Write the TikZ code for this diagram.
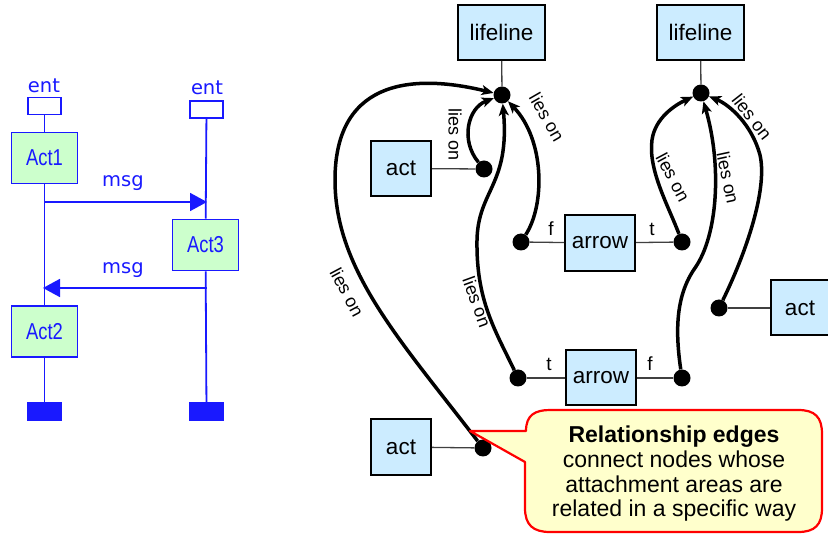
\documentclass[tikz,border=0pt]{standalone}
\usepackage{fontspec}
\usepackage{graphicx}
\setmainfont{Liberation Sans}
\newfontfamily\seqfont{DejaVu Sans}
\usetikzlibrary{arrows.meta}
\definecolor{seqblue}{RGB}{25,25,255}
\definecolor{actgreen}{RGB}{204,255,204}
\definecolor{nodeblue}{RGB}{204,236,255}
\definecolor{noteyellow}{RGB}{255,255,204}
\definecolor{notered}{RGB}{255,0,0}
\newcommand{\narrowtext}[1]{\scalebox{0.8}[1]{#1}}
\begin{document}
\begin{tikzpicture}[x=1pt,y=-1pt,
  seqbox/.style={draw=seqblue, fill=actgreen, line width=1.8pt, minimum width=66pt, minimum height=51pt, inner sep=0pt, font=\fontsize{23}{25}\selectfont, text=seqblue},
  entbox/.style={draw=seqblue, fill=white, line width=1.8pt, minimum width=33pt, minimum height=17pt, inner sep=0pt},
  endbox/.style={fill=seqblue, minimum width=35pt, minimum height=19pt, inner sep=0pt},
  life/.style={seqblue, line width=1.8pt},
  msgarrow/.style={life, -{Triangle[length=17pt,width=18pt]}},
  seqlabel/.style={text=seqblue, font=\seqfont\fontsize{19.5}{21}\selectfont, inner sep=0pt},
  gbox/.style={draw=black, fill=nodeblue, line width=2pt, inner sep=0pt, font=\fontsize{22.5}{24}\selectfont},
  attach/.style={circle, fill=black, minimum size=17pt, inner sep=0pt},
  link/.style={draw=black!75, line width=1.3pt},
  lieson/.style={line width=3.5pt, -{Stealth[length=12pt,width=10pt,inset=3pt]}},
  rellabel/.style={font=\fontsize{18}{20}\selectfont, inner sep=0pt},
  endlabel/.style={font=\fontsize{19}{21}\selectfont, inner sep=0pt},
  callout/.style={draw=notered, fill=noteyellow, line width=2.2pt, line join=round},
]
\useasboundingbox (0,0) rectangle (828,534);
\fill[white] (0,0) rectangle (828,534);

% ---------- sequence chart ----------
\node[seqlabel] (entl) at (44,86) {ent};
\node[seqlabel] (entr) at (207,88) {ent};
\node[entbox] (el) at (44.5,106) {};
\node[entbox] (er) at (206.5,109.5) {};
\node[seqbox] (a1) at (44.5,158) {\narrowtext{Act1}};
\node[seqbox] (a3) at (205.5,245) {\narrowtext{Act3}};
\node[seqbox] (a2) at (44.5,331.5) {\narrowtext{Act2}};
\node[endbox] (xl) at (44.5,411.5) {};
\node[endbox] (xr) at (206.5,411.5) {};
\draw[life] (el) -- (a1);
\draw[life] (a1) -- (a2);
\draw[life] (a2) -- (xl);
\draw[life] (er) -- (a3);
\draw[life] (a3) -- (xr);
\coordinate (m1a) at (44.5,202);
\coordinate (m1b) at (207,202);
\coordinate (m2a) at (206.5,288);
\coordinate (m2b) at (43,288);
\draw[msgarrow] (m1a) -- (m1b);
\draw[msgarrow] (m2a) -- (m2b);
\node[seqlabel] (ml1) at (123,183) {msg};
\node[seqlabel] (ml2) at (123,270) {msg};

% ---------- graph of attachment nodes ----------
\node[gbox, minimum width=87pt, minimum height=55pt] (lf1) at (501.5,32.5) {lifeline};
\node[gbox, minimum width=87pt, minimum height=55pt] (lf2) at (700.5,32.5) {lifeline};
\node[gbox, minimum width=60pt, minimum height=55pt] (act1) at (401,168.5) {act};
\node[gbox, minimum width=70pt, minimum height=56pt] (arr1) at (600,243) {arrow};
\node[gbox, minimum width=70pt, minimum height=55pt] (arr2) at (601,378) {arrow};
\node[gbox, minimum width=58pt, minimum height=55pt] (act2) at (800,308) {act};
\node[gbox, minimum width=60pt, minimum height=56pt] (act3) at (401,447) {act};

\node[attach] (dl1) at (502,95) {};
\node[attach] (dl2) at (701,93) {};
\node[attach] (da1) at (484,169) {};
\node[attach] (dfa1) at (521,242) {};
\node[attach] (dta1) at (682,242) {};
\node[attach] (dta2) at (518,378) {};
\node[attach] (dfa2) at (682,378) {};
\node[attach] (da2) at (719,308) {};
\node[attach] (da3) at (483,448) {};

\draw[link] (lf1) -- (dl1);
\draw[link] (lf2) -- (dl2);
\draw[link] (act1) -- (da1);
\draw[link] (arr1) -- (dfa1);
\draw[link] (arr1) -- (dta1);
\draw[link] (arr2) -- (dta2);
\draw[link] (arr2) -- (dfa2);
\draw[link] (act2) -- (da2);
\draw[link] (act3) -- (da3);

\node[endlabel] (f1) at (551,229) {f};
\node[endlabel] (t1) at (652,229) {t};
\node[endlabel] (t2) at (549,364) {t};
\node[endlabel] (f2) at (650,364) {f};

% relationship edges
\draw[lieson] (da3) .. controls (400,340) and (335,270) .. (335,180)
              .. controls (335,75) and (420,75) .. (dl1);
\draw[lieson] (da1) .. controls (460,140) and (468,108) .. (dl1);
\draw[lieson] (dfa1) .. controls (545,205) and (545,140) .. (dl1);
\draw[lieson] (dta2) .. controls (495,330) and (476,300) .. (477,240)
              .. controls (478,190) and (510,185) .. (dl1);
\draw[lieson] (dta1) .. controls (668,205) and (648,170) .. (652,140)
              .. controls (655,118) and (675,105) .. (dl2);
\draw[lieson] (dfa2) .. controls (675,330) and (676,295) .. (695,268)
              .. controls (718,235) and (722,165) .. (dl2);
\draw[lieson] (da2) .. controls (745,255) and (768,190) .. (760,155)
              .. controls (752,125) and (730,105) .. (dl2);

\node[rellabel, rotate=-62] (r1) at (347,292) {lies on};
\node[rellabel, rotate=-90] (r2) at (455,135) {lies on};
\node[rellabel, rotate=-60] (r3) at (547,117) {lies on};
\node[rellabel, rotate=-70] (r4) at (477,302) {lies on};
\node[rellabel, rotate=-62] (r5) at (673,177) {lies on};
\node[rellabel, rotate=-78] (r6) at (728,178) {lies on};
\node[rellabel, rotate=-52] (r7) at (752,117) {lies on};

% callout
\coordinate (tip) at (470,431);
\draw[callout] (tip) -- (526,431) .. controls (526,415) and (535,410) .. (550,410)
  -- (798,410) .. controls (815,410) and (822,417) .. (822,434)
  -- (822,508) .. controls (822,525) and (815,532) .. (798,532)
  -- (550,532) .. controls (533,532) and (525,525) .. (525,508)
  -- (525,462) -- cycle;
\node[align=center, font=\fontsize{23}{24.7}\selectfont, inner sep=0pt] (note) at (674,474)
  {\textbf{Relationship edges}\\connect nodes whose\\attachment areas are\\related in a specific way};
\end{tikzpicture}
\end{document}
